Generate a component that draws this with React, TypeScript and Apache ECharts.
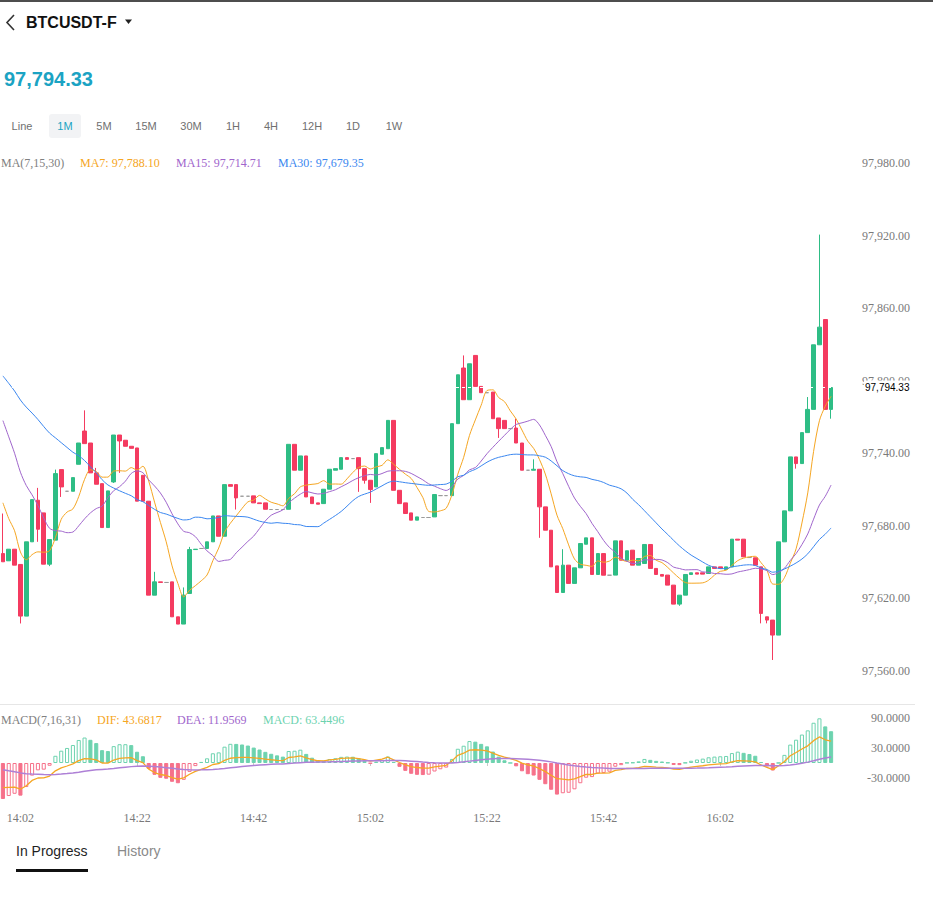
import React, { useEffect, useRef } from "react";
import * as echarts from "echarts";

// ---------- data ----------
const symbolName = "BTCUSDT-F";
const intervals = ["Line", "1M", "5M", "15M", "30M", "1H", "4H", "12H", "1D", "1W"];
const selectedInterval = "1M";
const startTime = "13:59";

// closes before the visible window (only feed the MA / MACD calculations)
const priorCloses = [
  97828, 97835, 97841, 97832, 97826, 97838, 97844, 97836, 97830, 97839, 97842,
  97845, 97838, 97829, 97842, 97850, 97836, 97824, 97831, 97840, 97833, 97827, 97838, 97835,
  97868, 97878,
  97862, 97851, 97840, 97832, 97818, 97809, 97804, 97796,
  97752, 97718, 97728, 97712, 97672, 97661,
];

const opens = [
  97657.1, 97651.1, 97660.7, 97648.1, 97605.4, 97666.8, 97701.2, 97690.7, 97648.3, 97668.2,
  97726.5, 97708.6, 97708.6, 97730.9, 97758.4, 97748.5, 97723.8, 97714.9, 97678.6, 97716.3,
  97755.1, 97750.8, 97745.8, 97744.4, 97721.8, 97700.4, 97622.7, 97633.7, 97633.2, 97633.7,
  97604.8, 97598.8, 97624.1, 97660.4, 97661.3, 97661.3, 97666.8, 97688.2, 97671.4, 97714.1,
  97714.1, 97704.5, 97704.5, 97704.8, 97699.0, 97699.0, 97693.5, 97693.5, 97693.5, 97693.7,
  97747.4, 97726.0, 97737.8, 97703.9, 97699.0, 97698.4, 97710.3, 97726.0, 97726.8, 97736.4,
  97735.6, 97736.4, 97727.3, 97717.7, 97712.2, 97739.2, 97743.8, 97767.2, 97709.4, 97699.0,
  97690.7, 97684.7, 97686.9, 97686.9, 97687.4, 97705.0, 97705.0, 97705.0, 97764.5, 97810.5,
  97784.3, 97820.9, 97795.3, 97790.1, 97790.6, 97769.2, 97767.2, 97760.4, 97760.9, 97748.5,
  97726.0, 97726.0, 97726.8, 97695.7, 97676.4, 97646.9, 97624.9, 97647.5, 97632.4, 97645.3,
  97664.8, 97670.1, 97639.8, 97657.1, 97639.2, 97639.3, 97667.6, 97651.6, 97659.9, 97647.5,
  97648.9, 97664.6, 97644.8, 97639.8, 97639.3, 97631.0, 97615.3, 97622.7, 97639.8, 97641.2,
  97641.2, 97640.6, 97646.1, 97646.1, 97643.9, 97646.1, 97669.0, 97669.0, 97653.8, 97653.6,
  97646.1, 97604.8, 97602.1, 97589.7, 97666.8, 97692.4, 97737.0, 97731.5, 97757.1, 97776.3,
  97829.7, 97850.6, 97776.3,
];

const closes = [
  97650.3, 97660.7, 97647.5, 97605.4, 97666.8, 97701.7, 97677.2, 97648.3, 97668.7, 97723.2,
  97712.2, 97708.6, 97719.9, 97748.5, 97748.0, 97723.8, 97714.4, 97678.6, 97708.9, 97755.1,
  97750.2, 97745.8, 97744.1, 97700.4, 97700.4, 97622.7, 97633.7, 97633.2, 97633.2, 97604.8,
  97598.8, 97622.7, 97660.4, 97660.7, 97661.3, 97666.8, 97688.2, 97671.4, 97714.1, 97712.7,
  97703.1, 97704.5, 97704.5, 97699.0, 97698.4, 97693.7, 97693.5, 97693.5, 97693.5, 97747.4,
  97726.0, 97737.8, 97703.9, 97698.4, 97697.9, 97710.3, 97726.8, 97727.3, 97736.4, 97735.0,
  97735.6, 97727.3, 97717.7, 97710.0, 97739.7, 97744.7, 97767.2, 97709.4, 97698.4, 97690.2,
  97684.7, 97687.4, 97686.9, 97686.9, 97705.9, 97705.0, 97705.0, 97764.5, 97804.9, 97784.3,
  97814.0, 97795.3, 97790.1, 97790.1, 97768.6, 97760.4, 97760.4, 97760.4, 97748.5, 97726.0,
  97726.0, 97726.8, 97695.7, 97676.4, 97646.1, 97624.9, 97647.5, 97632.4, 97645.3, 97665.4,
  97670.1, 97639.8, 97657.1, 97639.2, 97639.2, 97667.6, 97651.6, 97659.4, 97647.5, 97653.0,
  97664.6, 97644.8, 97639.8, 97638.4, 97631.0, 97615.3, 97622.7, 97639.8, 97641.2, 97640.1,
  97640.1, 97646.1, 97644.8, 97644.8, 97646.1, 97669.0, 97668.2, 97654.4, 97653.8, 97647.5,
  97607.6, 97602.1, 97589.7, 97666.8, 97692.4, 97737.0, 97731.5, 97757.1, 97776.3, 97829.7,
  97844.3, 97776.3, 97794.33,
];

const lows = [
  97650.3, 97651.1, 97647.5, 97599.3, 97605.4, 97666.8, 97666.8, 97648.3, 97646.7, 97668.2,
  97703.9, 97708.6, 97708.6, 97730.9, 97748.0, 97723.8, 97714.4, 97678.6, 97678.6, 97715.5,
  97723.8, 97745.8, 97744.1, 97700.4, 97700.4, 97622.7, 97622.7, 97633.2, 97633.2, 97604.8,
  97598.8, 97598.8, 97624.1, 97660.4, 97661.3, 97661.3, 97666.8, 97671.4, 97671.4, 97712.7,
  97693.5, 97704.5, 97704.5, 97699.0, 97698.4, 97693.7, 97693.5, 97693.5, 97693.5, 97693.7,
  97726.0, 97726.0, 97703.9, 97698.4, 97697.9, 97698.4, 97710.3, 97726.0, 97726.8, 97735.0,
  97735.6, 97708.1, 97714.9, 97699.0, 97712.2, 97739.2, 97743.8, 97709.4, 97698.4, 97690.2,
  97684.7, 97684.7, 97686.9, 97686.9, 97687.4, 97705.0, 97705.0, 97705.0, 97764.5, 97784.3,
  97784.3, 97795.3, 97790.1, 97790.1, 97768.6, 97752.7, 97760.4, 97760.4, 97748.5, 97726.0,
  97726.0, 97726.0, 97670.1, 97676.4, 97646.1, 97624.9, 97624.9, 97632.4, 97632.4, 97645.3,
  97664.8, 97639.8, 97639.8, 97639.2, 97639.2, 97639.3, 97651.6, 97651.6, 97647.5, 97647.5,
  97648.9, 97644.8, 97639.8, 97638.4, 97631.0, 97615.3, 97613.9, 97622.7, 97639.8, 97640.1,
  97640.1, 97640.6, 97644.8, 97644.8, 97643.9, 97646.1, 97668.2, 97654.4, 97653.8, 97647.5,
  97599.4, 97599.4, 97569.1, 97589.7, 97666.8, 97692.4, 97727.3, 97731.5, 97757.1, 97776.3,
  97829.7, 97776.3, 97768.6,
];

const highs = [
  97690.2, 97660.7, 97660.7, 97648.1, 97666.8, 97701.7, 97711.4, 97690.7, 97668.7, 97726.5,
  97726.5, 97708.6, 97719.9, 97748.5, 97775.5, 97748.5, 97727.9, 97714.9, 97708.9, 97755.1,
  97755.1, 97750.8, 97745.8, 97744.4, 97721.8, 97700.4, 97642.0, 97633.7, 97633.2, 97633.7,
  97604.8, 97629.1, 97662.6, 97660.7, 97661.3, 97666.8, 97688.2, 97688.2, 97714.1, 97714.1,
  97714.1, 97704.5, 97704.5, 97704.8, 97699.0, 97699.0, 97693.5, 97693.5, 97693.5, 97747.4,
  97747.4, 97737.8, 97737.8, 97703.9, 97699.0, 97710.3, 97726.8, 97727.3, 97736.4, 97736.4,
  97735.6, 97736.4, 97727.3, 97717.7, 97739.7, 97744.7, 97767.2, 97767.2, 97709.4, 97699.0,
  97690.7, 97687.4, 97686.9, 97686.9, 97705.9, 97705.0, 97705.0, 97764.5, 97804.9, 97820.9,
  97814.0, 97820.9, 97795.3, 97790.1, 97790.6, 97769.2, 97767.2, 97760.4, 97768.6, 97748.5,
  97726.0, 97735.0, 97726.8, 97695.7, 97676.4, 97646.9, 97660.7, 97647.5, 97645.3, 97665.4,
  97670.1, 97670.1, 97657.1, 97657.1, 97639.2, 97667.6, 97667.6, 97659.4, 97659.9, 97653.0,
  97664.6, 97664.6, 97644.8, 97639.8, 97639.3, 97631.0, 97622.7, 97639.8, 97641.2, 97641.2,
  97641.2, 97646.1, 97646.1, 97646.1, 97646.1, 97669.0, 97669.0, 97669.0, 97653.8, 97653.6,
  97646.1, 97604.8, 97602.1, 97666.8, 97692.4, 97737.0, 97737.0, 97757.1, 97786.5, 97829.7,
  97920.8, 97850.6, 97794.33,
];

const maPeriods = [7, 15, 30];
const maLegendValues = ["97,788.10", "97,714.71", "97,679.35"];
const macdParams = [7, 16, 31];
const macdLegendValues = ["43.6817", "11.9569", "63.4496"];
const priceAxis = { min: 97560, max: 97980, step: 60 };
const macdAxis = { min: -90, max: 90, step: 60 };

// ---------- styles ----------
const GREEN = "#2EBD85";
const RED = "#F43B60";
const DOJI = "#9a9a9a";
const MACD_GREEN = "#6DD3AF";
const MACD_RED = "#F6718A";
const C_MA = ["#F5A623", "#A066CC", "#3B87F0"];
const TEAL = "#1BA3C3";
const SERIF = "'Liberation Serif', 'Times New Roman', serif";
const SANS = "'Liberation Sans', Arial, sans-serif";

// ---------- derived ----------
function toTime(base: string, add: number) {
  const [h, m] = base.split(":").map(Number);
  const t = h * 60 + m + add;
  return String(Math.floor(t / 60)).padStart(2, "0") + ":" + String(t % 60).padStart(2, "0");
}
const categories = closes.map((_, i) => toTime(startTime, i));
const allCloses = [...priorCloses, ...closes];
const P = priorCloses.length;

function ma(n: number) {
  return closes.map((_, i) => {
    const g = P + i;
    let s = 0;
    for (let k = g - n + 1; k <= g; k++) s += allCloses[k];
    return +(s / n).toFixed(2);
  });
}
function ema(vals: number[], n: number) {
  const k = 2 / (n + 1);
  const out: number[] = [];
  let prev = vals[0];
  vals.forEach((v, i) => {
    prev = i === 0 ? v : prev + k * (v - prev);
    out.push(prev);
  });
  return out;
}
const emaS = ema(allCloses, macdParams[0]);
const emaL = ema(allCloses, macdParams[1]);
const difAll = emaS.map((v, i) => v - emaL[i]);
const deaAll = ema(difAll, macdParams[2]);
const histAll = difAll.map((v, i) => 2 * (v - deaAll[i]));
const dif = difAll.slice(P);
const dea = deaAll.slice(P);
const hist = histAll.slice(P);

const labelEvery = (i: number) => i % 20 === 3;
const fmtPrice = (v: number) =>
  v.toLocaleString("en-US", { minimumFractionDigits: 2, maximumFractionDigits: 2 });

export default function App() {
  const ref = useRef<HTMLDivElement>(null);
  useEffect(() => {
    if (!ref.current) return;
    const chart = echarts.init(ref.current, undefined, { renderer: "svg" });

    const candleData = closes.map((c, i) => [opens[i], c, lows[i], highs[i]]);
    const histData = hist.map((v, i) => {
      const prev = histAll[P + i - 1];
      const col = v >= 0 ? MACD_GREEN : MACD_RED;
      const rising = v >= prev;
      return {
        value: +v.toFixed(4),
        itemStyle: { color: rising ? "#ffffff" : col, borderColor: col, borderWidth: 1 },
      };
    });
    const maData = maPeriods.map((n) => ma(n));
    const last = closes[closes.length - 1];

    const graphic: any[] = [
      { type: "rect", shape: { x: 0, y: 0, width: 933, height: 2 }, style: { fill: "#4d4d4d" } },
      {
        type: "polyline",
        shape: { points: [[14, 15], [7, 22.5], [14, 30]] },
        style: { stroke: "#333", lineWidth: 1.6, fill: null },
      },
      {
        type: "text",
        x: 26,
        y: 22,
        style: { text: symbolName, font: `bold 16px ${SANS}`, fill: "#111", textVerticalAlign: "middle" },
      },
      { type: "polygon", shape: { points: [[125, 19.5], [132, 19.5], [128.5, 24]] }, style: { fill: "#222" } },
      {
        type: "text",
        x: 4,
        y: 79,
        style: { text: fmtPrice(last), font: `bold 20px ${SANS}`, fill: TEAL, textVerticalAlign: "middle" },
      },
      {
        type: "rect",
        shape: { x: 49, y: 114, width: 32, height: 24, r: 3 },
        style: { fill: "#F2F3F5" },
      },
      ...intervals.map((t, i) => ({
        type: "text",
        x: [22, 65, 104, 146, 191, 233, 271, 312, 353, 394][i],
        y: 126,
        style: {
          text: t,
          font: `11px ${SANS}`,
          fill: t === selectedInterval ? TEAL : "#707070",
          textAlign: "center",
          textVerticalAlign: "middle",
        },
      })),
      // MA legend
      { type: "text", x: 1, y: 162.5, style: { text: `MA(${maPeriods.join(",")})`, font: `12px ${SERIF}`, fill: "#808080", textVerticalAlign: "middle" } },
      ...maPeriods.map((n, i) => ({
        type: "text",
        x: [80, 176, 278][i],
        y: 162.5,
        style: { text: `MA${n}: ${maLegendValues[i]}`, font: `12px ${SERIF}`, fill: C_MA[i], textVerticalAlign: "middle" },
      })),
      // separator
      { type: "line", shape: { x1: 0, y1: 704.5, x2: 915, y2: 704.5 }, style: { stroke: "#E6E6E6", lineWidth: 1 } },
      // MACD legend
      { type: "text", x: 1, y: 719.5, style: { text: `MACD(${macdParams.join(",")})`, font: `12px ${SERIF}`, fill: "#808080", textVerticalAlign: "middle" } },
      { type: "text", x: 97, y: 719.5, style: { text: `DIF: ${macdLegendValues[0]}`, font: `12px ${SERIF}`, fill: C_MA[0], textVerticalAlign: "middle" } },
      { type: "text", x: 177, y: 719.5, style: { text: `DEA: ${macdLegendValues[1]}`, font: `12px ${SERIF}`, fill: C_MA[1], textVerticalAlign: "middle" } },
      { type: "text", x: 263, y: 719.5, style: { text: `MACD: ${macdLegendValues[2]}`, font: `12px ${SERIF}`, fill: MACD_GREEN, textVerticalAlign: "middle" } },
      // bottom tabs
      { type: "text", x: 16, y: 851, style: { text: "In Progress", font: `14px ${SANS}`, fill: "#1f1f1f", textVerticalAlign: "middle" } },
      { type: "text", x: 117, y: 851, style: { text: "History", font: `14px ${SANS}`, fill: "#8a8a8a", textVerticalAlign: "middle" } },
      { type: "rect", shape: { x: 16, y: 869, width: 72, height: 3 }, style: { fill: "#111" } },
    ];

    chart.setOption({
      animation: false,
      backgroundColor: "#ffffff",
      textStyle: { fontFamily: SERIF },
      graphic,
      grid: [
        { left: 0, right: 99, top: 163, height: 508 },
        { left: 0, right: 99, top: 718, height: 90 },
      ],
      xAxis: [
        {
          type: "category",
          data: categories,
          gridIndex: 0,
          axisLine: { show: false },
          axisTick: { show: false },
          axisLabel: { show: false },
          splitLine: { show: false },
        },
        {
          type: "category",
          data: categories,
          gridIndex: 1,
          axisLine: { show: false },
          axisTick: { show: true, interval: labelEvery, alignWithLabel: true, length: 3, lineStyle: { color: "#c8c8c8" } },
          axisLabel: { interval: labelEvery, color: "#7a7a7a", fontSize: 12, margin: 4, fontFamily: SERIF },
          splitLine: { show: false },
        },
      ],
      yAxis: [
        {
          type: "value",
          gridIndex: 0,
          position: "right",
          min: priceAxis.min,
          max: priceAxis.max,
          interval: priceAxis.step,
          axisLine: { show: false },
          axisTick: { show: false },
          splitLine: { show: false },
          axisLabel: { align: "right", margin: 76, color: "#7a7a7a", fontSize: 12, fontFamily: SERIF, formatter: (v: number) => fmtPrice(v) },
        },
        {
          type: "value",
          gridIndex: 1,
          position: "right",
          min: macdAxis.min,
          max: macdAxis.max,
          interval: macdAxis.step,
          axisLine: { show: false },
          axisTick: { show: false },
          splitLine: { show: false },
          axisLabel: {
            align: "right",
            margin: 76,
            color: "#7a7a7a",
            fontSize: 12,
            fontFamily: SERIF,
            formatter: (v: number) => (v === macdAxis.min ? "" : v.toFixed(4)),
          },
        },
      ],
      series: [
        {
          type: "candlestick",
          xAxisIndex: 0,
          yAxisIndex: 0,
          data: candleData,
          barWidth: "70%",
          itemStyle: {
            color: GREEN,
            color0: RED,
            borderColor: GREEN,
            borderColor0: RED,
            borderColorDoji: DOJI,
            borderWidth: 1,
          },
          markLine: {
            silent: true,
            symbol: ["none", "none"],
            data: [{ yAxis: last }],
            lineStyle: { color: "#ffffff", type: [3, 3], width: 1 },
            label: {
              show: true,
              position: "end",
              distance: 30,
              formatter: (p: any) => fmtPrice(Number(p.value)),
              color: "#000",
              fontSize: 10,
              fontFamily: SANS,
              backgroundColor: "#ffffff",
              padding: [2, 1],
            },
            emphasis: { disabled: true },
          },
        },
        ...maData.map((d, i) => ({
          type: "line",
          xAxisIndex: 0,
          yAxisIndex: 0,
          data: d,
          showSymbol: false,
          smooth: 0.3,
          lineStyle: { width: 1, color: C_MA[i] },
          itemStyle: { color: C_MA[i] },
          silent: true,
        })),
        {
          type: "bar",
          xAxisIndex: 1,
          yAxisIndex: 1,
          data: histData,
          barWidth: "70%",
          silent: true,
        },
        {
          type: "line",
          xAxisIndex: 1,
          yAxisIndex: 1,
          data: dif.map((v) => +v.toFixed(4)),
          showSymbol: false,
          lineStyle: { width: 1.3, color: C_MA[0] },
          silent: true,
        },
        {
          type: "line",
          xAxisIndex: 1,
          yAxisIndex: 1,
          data: dea.map((v) => +v.toFixed(4)),
          showSymbol: false,
          lineStyle: { width: 1.5, color: "#AE80D6" },
          silent: true,
        },
      ],
    });
    return () => chart.dispose();
  }, []);

  return (
    <div
      ref={ref}
      style={{ position: "fixed", left: 0, top: 0, width: 933, height: 911, background: "#fff" }}
    />
  );
}
